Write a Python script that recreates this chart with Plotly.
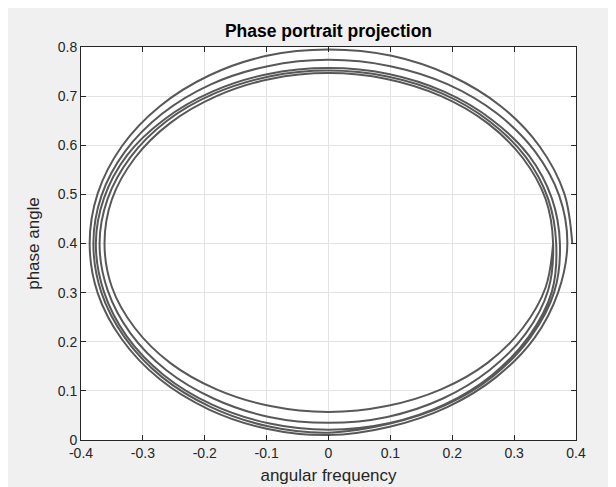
import plotly.graph_objects as go

# Loops of the phase trajectory (x = angular frequency, y = phase angle)
loop_a_x = [0.394, 0.381, 0.341, 0.279, 0.197, 0.102, 0.000, -0.100, -0.193, -0.273, -0.334, -0.373,
            -0.386, -0.373, -0.334, -0.273, -0.193, -0.100, 0.000, 0.099, 0.192, 0.271, 0.333, 0.371]
loop_a_y = [0.400, 0.502, 0.598, 0.679, 0.742, 0.782, 0.795, 0.782, 0.742, 0.679, 0.598, 0.502,
            0.400, 0.299, 0.205, 0.124, 0.062, 0.023, 0.010, 0.027, 0.067, 0.128, 0.208, 0.300]

loop_b_x = [0.386, 0.373, 0.334, 0.273, 0.193, 0.100, 0.000, -0.098, -0.190, -0.269, -0.329, -0.367,
            -0.380, -0.367, -0.329, -0.269, -0.190, -0.098, 0.000, 0.098, 0.189, 0.267, 0.327, 0.365]
loop_b_y = [0.400, 0.497, 0.587, 0.664, 0.724, 0.761, 0.774, 0.761, 0.724, 0.664, 0.587, 0.497,
            0.400, 0.300, 0.208, 0.128, 0.067, 0.028, 0.015, 0.033, 0.071, 0.131, 0.210, 0.302]

loop_c1_x = [0.374, 0.361, 0.324, 0.264, 0.187, 0.097, 0.000, -0.097, -0.188, -0.266, -0.326, -0.363,
             -0.376, -0.363, -0.326, -0.266, -0.188, -0.097, 0.000, 0.097, 0.187, 0.264, 0.324, 0.361]
loop_c1_y = [0.400, 0.492, 0.579, 0.652, 0.709, 0.745, 0.757, 0.745, 0.709, 0.652, 0.579, 0.492,
             0.400, 0.302, 0.211, 0.132, 0.072, 0.034, 0.021, 0.034, 0.072, 0.132, 0.211, 0.302]

loop_c2_x = [0.368, 0.355, 0.319, 0.260, 0.184, 0.095, 0.000, -0.096, -0.185, -0.262, -0.320, -0.357,
             -0.370, -0.357, -0.320, -0.262, -0.185, -0.096, 0.000, 0.095, 0.184, 0.260, 0.319, 0.355]
loop_c2_y = [0.400, 0.491, 0.576, 0.649, 0.705, 0.740, 0.752, 0.740, 0.705, 0.649, 0.576, 0.491,
             0.400, 0.305, 0.217, 0.142, 0.084, 0.047, 0.035, 0.047, 0.084, 0.142, 0.217, 0.305]

loop_c3_x = [0.363, 0.351, 0.314, 0.257, 0.182, 0.094, 0.000, -0.094, -0.181, -0.256, -0.313, -0.350,
             -0.362, -0.350, -0.313, -0.256, -0.181, -0.094, 0.000, 0.094, 0.182, 0.257, 0.314, 0.351]
loop_c3_y = [0.400, 0.490, 0.574, 0.645, 0.700, 0.735, 0.747, 0.735, 0.700, 0.645, 0.574, 0.490,
             0.400, 0.311, 0.228, 0.157, 0.103, 0.069, 0.057, 0.069, 0.103, 0.157, 0.228, 0.311]

x_ticks = [-0.4, -0.3, -0.2, -0.1, 0, 0.1, 0.2, 0.3, 0.4]
x_tick_labels = ["-0.4", "-0.3", "-0.2", "-0.1", "0", "0.1", "0.2", "0.3", "0.4"]
y_ticks = [0, 0.1, 0.2, 0.3, 0.4, 0.5, 0.6, 0.7, 0.8]
y_tick_labels = ["0", "0.1", "0.2", "0.3", "0.4", "0.5", "0.6", "0.7", "0.8"]

title_text = "Phase portrait projection"
x_label = "angular frequency"
y_label = "phase angle"

traj_x = loop_a_x + loop_b_x + loop_c1_x + loop_c2_x + loop_c3_x + loop_c3_x[:1]
traj_y = loop_a_y + loop_b_y + loop_c1_y + loop_c2_y + loop_c3_y + loop_c3_y[:1]

FONT = "Liberation Sans, Arial, Helvetica, sans-serif"
AXC = "#262626"

fig = go.Figure()
fig.add_trace(go.Scatter(
    x=traj_x, y=traj_y, mode="lines",
    line=dict(color="#585858", width=2, shape="spline", smoothing=1.0),
    showlegend=False, hoverinfo="skip",
))

axis_common = dict(
    showline=True, linecolor=AXC, linewidth=1, mirror="ticks",
    ticks="inside", ticklen=5, tickwidth=1, tickcolor=AXC,
    showgrid=True, gridcolor="#e3e3e3", gridwidth=1,
    zeroline=False, tickfont=dict(family=FONT, size=14, color=AXC),
    automargin=False,
)

fig.update_xaxes(range=[-0.4, 0.4], tickvals=x_ticks, ticktext=x_tick_labels,
                 title=dict(text=x_label, font=dict(family=FONT, size=17, color=AXC), standoff=9),
                 **axis_common)
fig.update_yaxes(range=[0, 0.8], tickvals=y_ticks, ticktext=y_tick_labels,
                 title=dict(text=y_label, font=dict(family=FONT, size=17, color=AXC), standoff=13),
                 **axis_common)

# page has an 8px body margin; figure coordinates below are relative to the figure
W, H = 616, 487
L, R, T, B = 73, 48, 39, 55

fig.update_layout(
    width=W, height=H,
    margin=dict(l=L, r=R, t=T, b=B, pad=0, autoexpand=False),
    paper_bgcolor="#f0f0f0", plot_bgcolor="white",
    title=dict(text="<b>" + title_text + "</b>", x=0.5, xref="paper", xanchor="center",
               y=1 - 23 / H, yref="container", yanchor="middle", automargin=False,
               font=dict(family=FONT, size=17.5, color="#000000")),
)

fig.write_html("out.html")
